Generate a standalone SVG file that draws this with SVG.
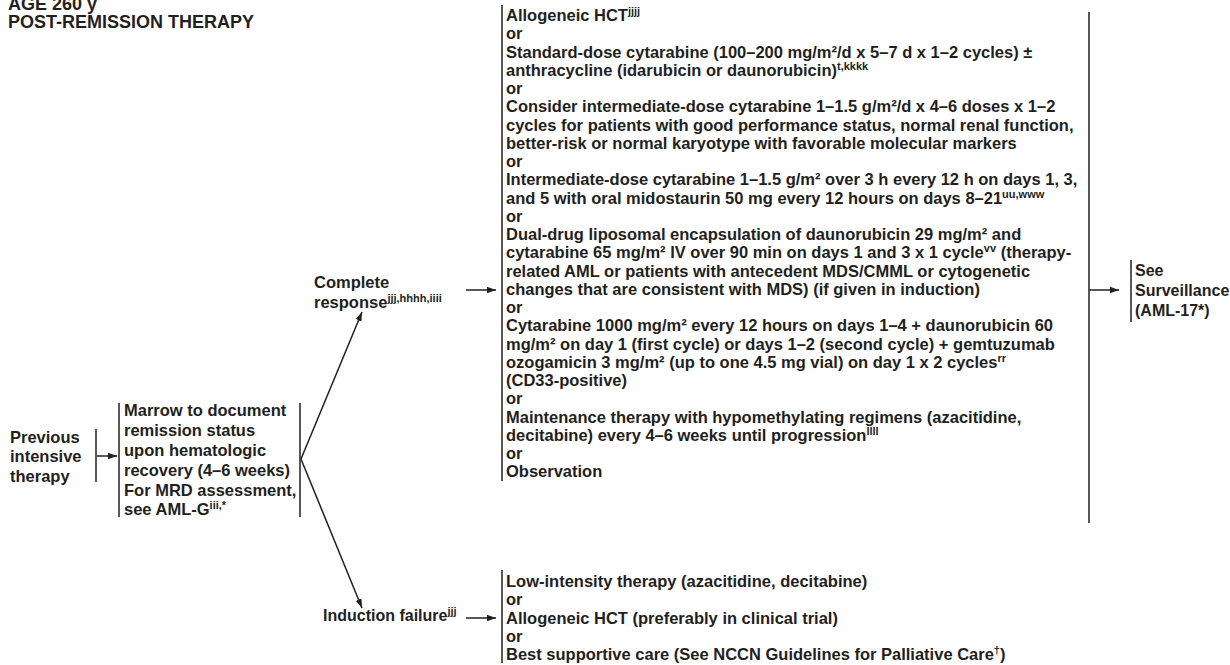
<svg xmlns="http://www.w3.org/2000/svg" width="1230" height="665" viewBox="0 0 1230 665">
<defs>
<style>
text{font-family:"Liberation Sans",Arial,sans-serif;font-weight:bold;fill:#231f20}
.h{font-size:18px}
.m{font-size:16.5px}
.l{font-size:16.5px}
.s{font-size:16px}
.sup{font-size:11px}
.bar{stroke:#231f20;stroke-width:1.5;fill:none}
.con{stroke:#231f20;stroke-width:1.5;fill:none;marker-end:url(#ah)}
</style>
<marker id="ah" viewBox="0 0 10 10" refX="10" refY="5" markerWidth="9" markerHeight="9" orient="auto" markerUnits="userSpaceOnUse">
<path d="M0,1.5 L10,5 L0,8.5 z" fill="#231f20"/>
</marker>
</defs>
<rect width="1230" height="665" fill="#ffffff"/>
<g id="title">
<text class="h" x="8" y="10">AGE 260 y</text>
<text class="h" x="8" y="28">POST-REMISSION THERAPY</text>
</g>
<g id="connectors">
<line class="con" x1="97" y1="456" x2="117" y2="456"/>
<line class="con" x1="301" y1="459" x2="362" y2="312"/>
<line class="con" x1="301" y1="459" x2="362" y2="608"/>
<line class="con" x1="466" y1="290" x2="496" y2="290"/>
<line class="con" x1="466" y1="618" x2="496" y2="618"/>
<line class="con" x1="1089" y1="290" x2="1119" y2="290"/>
</g>
<g id="node-previous">
<text class="l" x="10" y="443">Previous</text>
<text class="l" x="10" y="462">intensive</text>
<text class="l" x="10" y="482">therapy</text>
<line class="bar" x1="96" y1="429" x2="96" y2="482"/>
</g>
<g id="node-marrow">
<line class="bar" x1="119" y1="403" x2="119" y2="517"/>
<line class="bar" x1="300" y1="403" x2="300" y2="517"/>
<text class="l" x="124" y="416">Marrow to document</text>
<text class="l" x="124" y="436">remission status</text>
<text class="l" x="124" y="456">upon hematologic</text>
<text class="l" x="124" y="476">recovery (4–6 weeks)</text>
<text class="l" x="124" y="496">For MRD assessment,</text>
<text class="l" x="124" y="515">see AML-G<tspan class="sup" dy="-6">iii,*</tspan></text>
</g>
<g id="node-complete">
<text class="l" x="314" y="288">Complete</text>
<text class="l" x="314" y="308">response<tspan class="sup" dy="-6">jjj,hhhh,iiii</tspan></text>
</g>
<g id="node-failure">
<text class="s" x="323" y="621">Induction failure<tspan class="sup" dy="-6">jjj</tspan></text>
</g>
<g id="node-options">
<line class="bar" x1="502" y1="5" x2="502" y2="481"/>
<line class="bar" x1="1089" y1="12" x2="1089" y2="523"/>
<text class="m" x="506" y="21">Allogeneic HCT<tspan class="sup" dy="-6">jjjj</tspan></text>
<text class="m" x="506" y="39.25">or</text>
<text class="m" x="506" y="57.5">Standard-dose cytarabine (100–200 mg/m²/d x 5–7 d x 1–2 cycles) ±</text>
<text class="m" x="506" y="75.75">anthracycline (idarubicin or daunorubicin)<tspan class="sup" dy="-6">t,kkkk</tspan></text>
<text class="m" x="506" y="94">or</text>
<text class="m" x="506" y="112.25">Consider intermediate-dose cytarabine 1–1.5 g/m²/d x 4–6 doses x 1–2</text>
<text class="m" x="506" y="130.5">cycles for patients with good performance status, normal renal function,</text>
<text class="m" x="506" y="148.75">better-risk or normal karyotype with favorable molecular markers</text>
<text class="m" x="506" y="167">or</text>
<text class="m" x="506" y="185.25">Intermediate-dose cytarabine 1–1.5 g/m² over 3 h every 12 h on days 1, 3,</text>
<text class="m" x="506" y="203.5">and 5 with oral midostaurin 50 mg every 12 hours on days 8–21<tspan class="sup" dy="-6">uu,www</tspan></text>
<text class="m" x="506" y="221.75">or</text>
<text class="m" x="506" y="240">Dual-drug liposomal encapsulation of daunorubicin 29 mg/m² and</text>
<text class="m" x="506" y="258.25">cytarabine 65 mg/m² IV over 90 min on days 1 and 3 x 1 cycle<tspan class="sup" dy="-6">vv</tspan><tspan dy="6"> (therapy-</tspan></text>
<text class="m" x="506" y="276.5">related AML or patients with antecedent MDS/CMML or cytogenetic</text>
<text class="m" x="506" y="294.75">changes that are consistent with MDS) (if given in induction)</text>
<text class="m" x="506" y="313">or</text>
<text class="m" x="506" y="331.25">Cytarabine 1000 mg/m² every 12 hours on days 1–4 + daunorubicin 60</text>
<text class="m" x="506" y="349.5">mg/m² on day 1 (first cycle) or days 1–2 (second cycle) + gemtuzumab</text>
<text class="m" x="506" y="367.75">ozogamicin 3 mg/m² (up to one 4.5 mg vial) on day 1 x 2 cycles<tspan class="sup" dy="-6">rr</tspan></text>
<text class="m" x="506" y="386">(CD33-positive)</text>
<text class="m" x="506" y="404.25">or</text>
<text class="m" x="506" y="422.5">Maintenance therapy with hypomethylating regimens (azacitidine,</text>
<text class="m" x="506" y="440.75">decitabine) every 4–6 weeks until progression<tspan class="sup" dy="-6">llll</tspan></text>
<text class="m" x="506" y="459">or</text>
<text class="m" x="506" y="477.25">Observation</text>
</g>
<g id="node-failure-options">
<line class="bar" x1="502" y1="570" x2="502" y2="663"/>
<text class="m" x="506" y="587">Low-intensity therapy (azacitidine, decitabine)</text>
<text class="m" x="506" y="605.25">or</text>
<text class="m" x="506" y="623.5">Allogeneic HCT (preferably in clinical trial)</text>
<text class="m" x="506" y="641.75">or</text>
<text class="m" x="506" y="660">Best supportive care (See NCCN Guidelines for Palliative Care<tspan class="sup" dy="-6">†</tspan><tspan dy="6">)</tspan></text>
</g>
<g id="node-surveillance">
<line class="bar" x1="1131" y1="260" x2="1131" y2="322"/>
<text class="s" x="1135" y="276">See</text>
<text class="s" x="1135" y="296">Surveillance</text>
<text class="s" x="1135" y="316">(AML-17*)</text>
</g>
</svg>
